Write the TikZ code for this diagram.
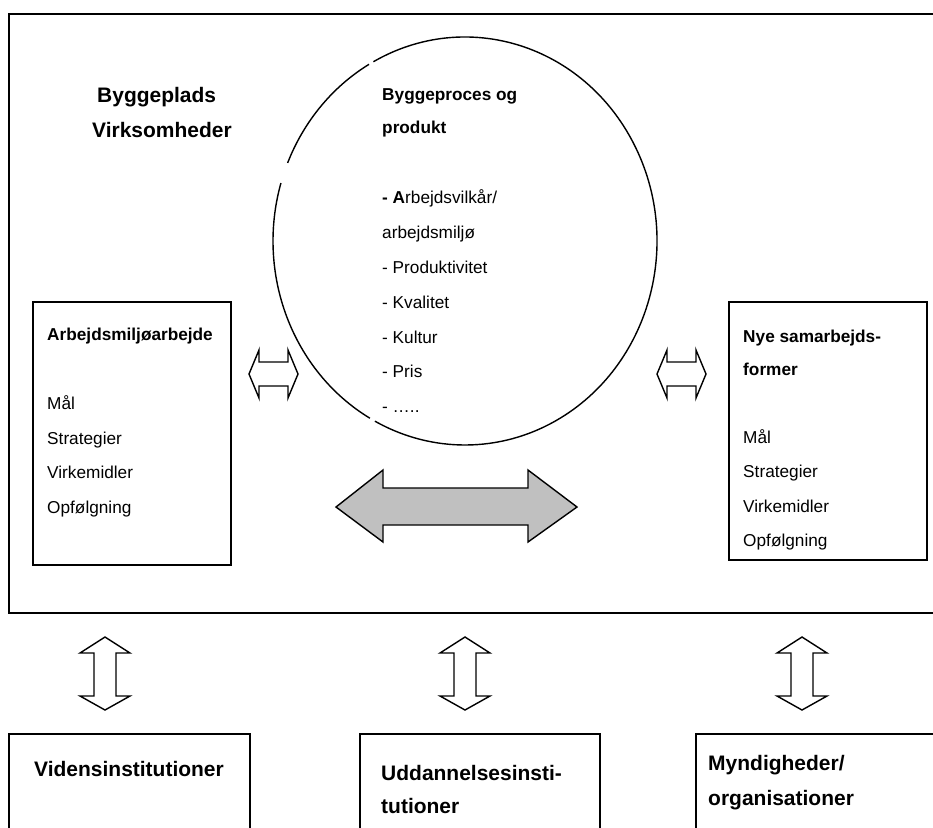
\documentclass[tikz,border=0pt]{standalone}
\usepackage{fontspec}
\setmainfont{Liberation Sans}
\usetikzlibrary{positioning}

\begin{document}
\begin{tikzpicture}[x=0.03cm,y=-0.03cm,
		txt/.style={font=\fontsize{14.7}{17}\selectfont,inner sep=0,anchor=base west},
		head/.style={txt,font=\fontsize{14.7}{17}\selectfont\bfseries},
		bighead/.style={txt,font=\fontsize{17.9}{21}\selectfont\bfseries},
		boxline/.style={draw,line width=1.3pt},
		blockarrow/.style={draw,line width=1.2pt,line join=miter,fill=white}]
		\useasboundingbox (0,0) rectangle (933,827);
		\clip (0,0) rectangle (933,827);

		% outer frame
		\draw[line width=1.7pt] (9,14) rectangle (950,613);

		\node[bighead] (byggeplads) at (97,102) {Byggeplads};
		\node[bighead] (virksomheder) at (92,137) {Virksomheder};

		% circle with small gaps
		\begin{scope}[line width=1.2pt]
			\draw (465,241) ++(-118.5:192 and 204) arc[start angle=-118.5,end angle=118,x radius=192,y radius=204];
			\draw (465,241) ++(119.7:192 and 204) arc[start angle=119.7,end angle=196.5,x radius=192,y radius=204];
			\draw (465,241) ++(202.5:192 and 204) arc[start angle=202.5,end angle=240,x radius=192,y radius=204];
		\end{scope}

		\node[head] (proces) at (382,100) {Byggeproces og};
		\node[head] (produkt) at (382,133) {produkt};
		\node[txt] (vilkaar) at (382,203) {\textbf{- A}rbejdsvilkår/};
		\node[txt] (miljoe) at (382,238) {arbejdsmiljø};
		\node[txt] (produktivitet) at (382,273) {- Produktivitet};
		\node[txt] (kvalitet) at (382,308) {- Kvalitet};
		\node[txt] (kultur) at (382,343) {- Kultur};
		\node[txt] (pris) at (382,377) {- Pris};
		\node[txt] (etc) at (382,412) {- …..};

		% side boxes
		\draw[boxline] (33,302) rectangle (231,565);
		\node[head] (amarbejde) at (47,340) {Arbejdsmiljøarbejde};
		\foreach \txt [count=\i] in {Mål,Strategier,Virkemidler,Opfølgning}
			\node[txt] (left\i) at (47,375+34.5*\i) {\txt};

		\draw[boxline] (729,302) rectangle (927,560);
		\node[head] (samarb) at (743,342) {Nye samarbejds-};
		\node[head] (former) at (743,375) {former};
		\foreach \txt [count=\i] in {Mål,Strategier,Virkemidler,Opfølgning}
			\node[txt] (right\i) at (743,408.5+34.5*\i) {\txt};

		% arrows
		\foreach \cx in {273.5,681.5}
			\draw[blockarrow] (\cx-24.5,374) -- (\cx-14.5,350) -- (\cx-14.5,362) -- (\cx+14.5,362)
				-- (\cx+14.5,350) -- (\cx+24.5,374) -- (\cx+14.5,398) -- (\cx+14.5,386)
				-- (\cx-14.5,386) -- (\cx-14.5,398) -- cycle;

		\draw[blockarrow,fill={rgb,255:red,192;green,192;blue,192}]
			(336,507) -- (383,470) -- (383,488) -- (528,488) -- (528,470) -- (577,507)
			-- (528,542) -- (528,525) -- (383,525) -- (383,542) -- cycle;

		\foreach \cx in {105,465,802}
			\draw[blockarrow] (\cx,637) -- (\cx+25,653) -- (\cx+11,653) -- (\cx+11,696)
				-- (\cx+25,696) -- (\cx,710) -- (\cx-25,696) -- (\cx-11,696)
				-- (\cx-11,653) -- (\cx-25,653) -- cycle;

		% bottom boxes
		\draw[boxline] (9,734) rectangle (250,850);
		\draw[boxline] (360,734) rectangle (600,850);
		\draw[boxline] (696,734) rectangle (950,850);
		\node[bighead] (viden) at (34,776) {Vidensinstitutioner};
		\node[bighead] (uddan) at (381,780) {Uddannelsesinsti-};
		\node[bighead] (tutioner) at (381,813) {tutioner};
		\node[bighead] (myndig) at (708,770) {Myndigheder/};
		\node[bighead] (organ) at (708,805) {organisationer};
	\end{tikzpicture}
\end{document}
